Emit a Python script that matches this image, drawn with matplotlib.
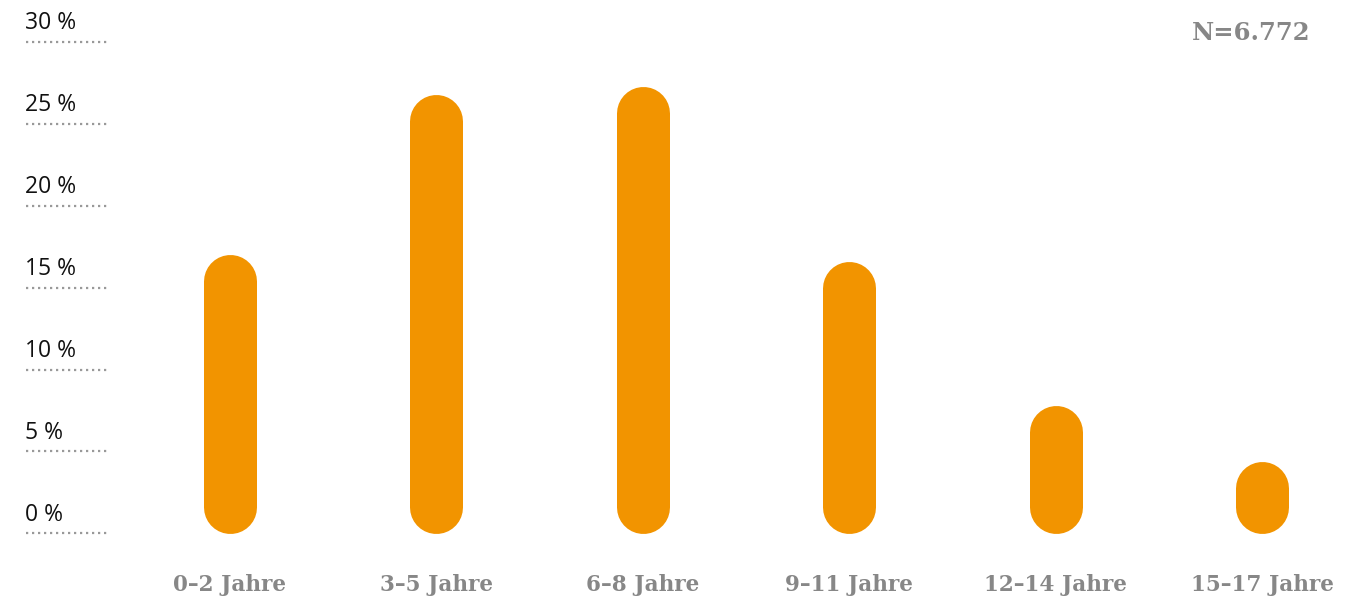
import matplotlib
matplotlib.use('Agg')
import matplotlib.pyplot as plt

# Altersgruppen und Anteile in %
categories = ['0–2 Jahre', '3–5 Jahre', '6–8 Jahre', '9–11 Jahre', '12–14 Jahre', '15–17 Jahre']
values = [17.0, 26.8, 27.3, 16.6, 7.8, 4.4]
yticks = [0, 5, 10, 15, 20, 25, 30]
ytick_labels = ['0 %', '5 %', '10 %', '15 %', '20 %', '25 %', '30 %']
n_label = 'N=6.772'

orange = '#F29400'
grey = '#878787'

W, H = 1361, 598
fig = plt.figure(figsize=(W / 100, H / 100), dpi=100)
ax = fig.add_axes([0, 0, 1, 1])

# pixel -> data mapping
x0_px, dx_px = 230, 206.4
y0_px, y30_px = 533.3, 42.0
ppu = (y0_px - y30_px) / 30.0
ax.set_xlim(-x0_px / dx_px, (W - x0_px) / dx_px)
ax.set_ylim(-(H - y0_px) / ppu, 30 + y30_px / ppu)
ax.axis('off')

# dotted grid stubs on the left
for t, lab in zip(yticks, ytick_labels):
    ax.plot([26 / W, 110 / W], [t, t], transform=ax.get_yaxis_transform(),
            ls=(0, (1, 1.7)), color='#999999', lw=1.6)
    ax.text(25 / W, t + 0.4, lab, transform=ax.get_yaxis_transform(),
            fontsize=16.5, family='Open Sans', color='#111111', va='bottom', ha='left')

# rounded bars
bar_px = 53
r = (bar_px / 2) / ppu
for i, v in enumerate(values):
    ax.plot([i, i], [r, v - r], color=orange, lw=bar_px * 0.72,
            solid_capstyle='round')
    ax.text(i, -(585 - y0_px) / ppu, categories[i], ha='center', va='center',
            fontsize=15.5, fontweight='heavy', family='DejaVu Serif', color=grey)

fig.text(1310 / W, 1 - 33 / H, n_label, ha='right', va='center',
         fontsize=17.5, fontweight='heavy', family='DejaVu Serif', color=grey)

fig.savefig('out.png', dpi=100)
